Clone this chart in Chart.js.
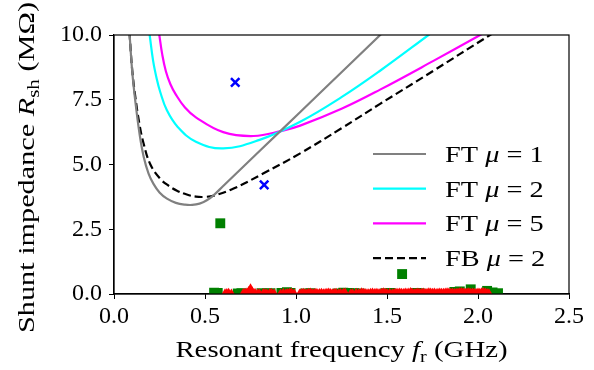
<!DOCTYPE html>
<html>
<head>
<meta charset="utf-8">
<script src="https://cdn.jsdelivr.net/npm/chart.js@4.4.1/dist/chart.umd.min.js"></script>
<style>
	body { margin: 0; background: #ffffff; }
</style>
</head>
<body>
<canvas id="graphique" width="594" height="370"></canvas>
<script>
// courbes FT / FB (frequence en GHz, impedance en MOhm)
const ft1Freq = [0.08, 0.086, 0.1, 0.117, 0.14, 0.163, 0.19, 0.217, 0.25, 0.291, 0.34, 0.39, 0.43, 0.47, 0.51, 0.55, 0.6, 0.7, 0.914, 1.133, 1.47];
const ft1R = [10.7, 10.0, 8.6, 7.45, 6.2, 5.3, 4.65, 4.25, 3.92, 3.68, 3.52, 3.45, 3.44, 3.49, 3.62, 3.83, 4.17, 4.845, 6.29, 7.77, 10.05];

const ft2Freq = [0.19, 0.196, 0.215, 0.235, 0.254, 0.29, 0.35, 0.45, 0.6, 0.8, 1.023, 1.25, 1.462, 1.728, 1.76];
const ft2R = [10.3, 10.0, 9.0, 8.3, 7.8, 7.1, 6.45, 5.88, 5.62, 5.95, 6.65, 7.6, 8.62, 10.0, 10.17];

const ft5Freq = [0.243, 0.249, 0.265, 0.285, 0.31, 0.34, 0.39, 0.45, 0.6, 0.767, 0.923, 1.023, 1.25, 1.462, 1.755, 2.012, 2.04];
const ft5R = [10.3, 10.0, 9.25, 8.6, 8.1, 7.7, 7.2, 6.82, 6.25, 6.1, 6.3, 6.5, 7.15, 7.89, 9.0, 10.0, 10.11];

const fb2Freq = [0.08, 0.086, 0.1, 0.117, 0.14, 0.163, 0.2, 0.254, 0.3, 0.346, 0.4, 0.45, 0.5, 0.55, 0.657, 0.822, 1.023, 1.25, 1.462, 1.755, 2.066, 2.09];
const fb2R = [10.6, 10.0, 8.65, 7.62, 6.55, 5.8, 5.0, 4.45, 4.18, 3.99, 3.84, 3.76, 3.75, 3.8, 4.07, 4.66, 5.43, 6.4, 7.34, 8.62, 10.0, 10.1];

// points mesures
const croixFreq = [0.666, 0.825];
const croixR = [8.17, 4.21];

const carresFreq = [0.584, 1.583, 0.55, 0.57, 0.68, 0.7, 0.81, 0.84, 0.86, 0.92, 0.95, 0.97, 1.05, 1.08, 1.23, 1.26, 1.29, 1.32, 1.35, 1.49, 1.52, 1.66, 1.68, 1.87, 1.9, 1.96, 2.05, 2.08, 2.11];
const carresR = [2.73, 0.77, 0.05, 0.04, 0.02, 0.03, 0.03, 0.02, 0.03, 0.04, 0.07, 0.04, 0.02, 0.03, 0.02, 0.05, 0.04, 0.03, 0.02, 0.03, 0.04, 0.04, 0.03, 0.08, 0.1, 0.18, 0.12, 0.06, 0.03];

const trianglesFreq = [0.61, 0.62, 0.63, 0.645, 0.71, 0.72, 0.73, 0.74, 0.75, 0.76, 0.775, 0.79, 0.8, 0.82, 0.83, 0.84, 0.855, 0.865, 0.88, 0.915, 0.93, 0.945, 0.955, 0.965, 0.975, 0.99, 1.02, 1.03, 1.04, 1.05, 1.06, 1.07, 1.08, 1.09, 1.1, 1.11, 1.12, 1.13, 1.14, 1.15, 1.16, 1.17, 1.18, 1.19, 1.2, 1.21, 1.22, 1.235, 1.245, 1.26, 1.27, 1.3, 1.31, 1.33, 1.345, 1.36, 1.37, 1.38, 1.39, 1.4, 1.41, 1.42, 1.43, 1.44, 1.45, 1.46, 1.47, 1.48, 1.49, 1.5, 1.515, 1.53, 1.54, 1.55, 1.56, 1.57, 1.58, 1.59, 1.6, 1.61, 1.62, 1.63, 1.64, 1.65, 1.66, 1.67, 1.68, 1.69, 1.7, 1.71, 1.72, 1.73, 1.74, 1.75, 1.76, 1.77, 1.78, 1.79, 1.8, 1.81, 1.82, 1.83, 1.84, 1.85, 1.86, 1.87, 1.88, 1.89, 1.9, 1.91, 1.92, 1.93, 1.94, 1.95, 1.96, 1.97, 1.98, 1.99, 2.0, 2.01, 2.02, 2.03, 2.04, 2.05, 2.06];
const trianglesR = [0.03, 0.04, 0.05, 0.02, 0.04, 0.05, 0.06, 0.12, 0.22, 0.1, 0.05, 0.03, 0.02, 0.04, 0.03, 0.02, 0.04, 0.05, 0.03, 0.02, 0.05, 0.03, 0.04, 0.05, 0.06, 0.03, 0.02, 0.04, 0.05, 0.03, 0.03, 0.05, 0.06, 0.03, 0.04, 0.05, 0.03, 0.04, 0.05, 0.03, 0.04, 0.05, 0.06, 0.04, 0.03, 0.04, 0.05, 0.03, 0.04, 0.05, 0.06, 0.02, 0.04, 0.05, 0.04, 0.07, 0.05, 0.04, 0.03, 0.03, 0.05, 0.06, 0.04, 0.05, 0.04, 0.03, 0.05, 0.07, 0.05, 0.04, 0.05, 0.03, 0.04, 0.05, 0.05, 0.06, 0.05, 0.04, 0.06, 0.05, 0.06, 0.08, 0.05, 0.03, 0.05, 0.06, 0.04, 0.05, 0.06, 0.04, 0.05, 0.07, 0.06, 0.05, 0.06, 0.04, 0.05, 0.06, 0.05, 0.05, 0.06, 0.07, 0.06, 0.05, 0.06, 0.04, 0.05, 0.06, 0.07, 0.08, 0.06, 0.05, 0.06, 0.07, 0.05, 0.06, 0.05, 0.04, 0.06, 0.05, 0.07, 0.08, 0.06, 0.04, 0.03];

// legende
const legendeNoms = ["FT", "FT", "FT", "FB"];
const legendeMu = ["1", "2", "5", "2"];

const police = "Liberation Serif";

function points(xs, ys) {
	return xs.map((x, i) => ({ x: x, y: ys[i] }));
}

function courbe(xs, ys, couleur, tirets) {
	return {
		data: points(xs, ys),
		showLine: true,
		borderColor: couleur,
		borderWidth: 2.2,
		borderDash: tirets,
		pointRadius: 0,
		tension: 0.4,
		clip: 0,
	};
}

function marqueurs(xs, ys, style, couleur, rayon) {
	return {
		data: points(xs, ys),
		showLine: false,
		pointStyle: style,
		pointRadius: rayon,
		pointHoverRadius: rayon,
		backgroundColor: couleur,
		borderColor: couleur,
		borderWidth: style === "crossRot" ? 2.5 : 0,
		clip: 0,
	};
}

// texte avec morceaux italiques / indices, etire en largeur (police TeX plus large)
function texteMixte(ctx, morceaux, x, y, taille, centre, etire) {
	const polices = morceaux.map((m) => {
		const t = m.indice ? taille * 0.7 : taille;
		return (m.italique ? "italic " : "") + t + "px '" + police + "'";
	});
	let total = 0;
	morceaux.forEach((m, i) => {
		ctx.font = polices[i];
		total += ctx.measureText(m.t).width;
	});
	ctx.save();
	ctx.translate(x, y);
	ctx.scale(etire, 1);
	let pos = centre ? -total / 2 : 0;
	ctx.textBaseline = "alphabetic";
	ctx.textAlign = "left";
	morceaux.forEach((m, i) => {
		ctx.font = polices[i];
		ctx.fillText(m.t, pos, m.indice ? taille * 0.2 : 0);
		pos += ctx.measureText(m.t).width;
	});
	ctx.restore();
}

const habillage = {
	id: "habillage",
	afterDraw(chart) {
		const ctx = chart.ctx;
		const zone = chart.chartArea;
		ctx.save();
		// cadre
		ctx.strokeStyle = "#000000";
		ctx.lineWidth = 1.2;
		ctx.strokeRect(zone.left, zone.top, zone.right - zone.left, zone.bottom - zone.top);
		ctx.fillStyle = "#000000";
		// titre axe x
		texteMixte(ctx, [
			{ t: "Resonant frequency " },
			{ t: "f", italique: true },
			{ t: "r", indice: true },
			{ t: " (GHz)" },
		], (zone.left + zone.right) / 2, 357, 24, true, 1.2);
		// titre axe y
		ctx.translate(34, (zone.top + zone.bottom) / 2 + 3);
		ctx.rotate(-Math.PI / 2);
		texteMixte(ctx, [
			{ t: "Shunt impedance " },
			{ t: "R", italique: true },
			{ t: "sh", indice: true },
			{ t: " (M\u03a9)" },
		], 0, 0, 24, true, 1.26);
		ctx.restore();
		// legende
		ctx.save();
		const couleurs = ["#808080", "#00ffff", "#ff00ff", "#000000"];
		for (let i = 0; i < legendeNoms.length; i++) {
			const y = 154 + i * 34.7;
			ctx.strokeStyle = couleurs[i];
			ctx.lineWidth = 2.2;
			ctx.setLineDash(i === 3 ? [8, 4] : []);
			ctx.beginPath();
			ctx.moveTo(373, y);
			ctx.lineTo(426, y);
			ctx.stroke();
			ctx.fillStyle = "#000000";
			texteMixte(ctx, [
				{ t: legendeNoms[i] + " " },
				{ t: "\u03bc", italique: true },
				{ t: " = " + legendeMu[i] },
			], 445, y + 8, 24, false, 1.18);
		}
		ctx.restore();
	},
};

const data = {
	datasets: [
		marqueurs(trianglesFreq, trianglesR, "triangle", "#ff0000", 5),
		marqueurs(carresFreq, carresR, "rect", "#008000", 7),
		marqueurs(croixFreq, croixR, "crossRot", "#0000ff", 6),
		courbe(ft1Freq, ft1R, "#808080", []),
		courbe(ft2Freq, ft2R, "#00ffff", []),
		courbe(ft5Freq, ft5R, "#ff00ff", []),
		courbe(fb2Freq, fb2R, "#000000", [8, 4]),
	],
};

const config = {
	type: "scatter",
	data: data,
	options: {
		responsive: false,
		animation: false,
		devicePixelRatio: 1,
		layout: { padding: { left: 0, right: 25, top: 35, bottom: 0 } },
		plugins: { legend: { display: false }, tooltip: { enabled: false } },
		scales: {
			x: {
				min: 0,
				max: 2.5,
				afterFit: (scale) => { scale.height = 76; },
				border: { display: true, color: "#000000", width: 1.2 },
				grid: { drawOnChartArea: false, drawTicks: true, tickLength: 5, color: "#000000" },
				ticks: {
					stepSize: 0.5,
					padding: 3,
					color: "#000000",
					font: { family: police, size: 24 },
					callback: (v) => v.toFixed(1),
				},
			},
			y: {
				min: 0,
				max: 10,
				afterFit: (scale) => { scale.width = 114; },
				border: { display: true, color: "#000000", width: 1.2 },
				grid: { drawOnChartArea: false, drawTicks: true, tickLength: 5, color: "#000000" },
				ticks: {
					stepSize: 2.5,
					padding: 7,
					color: "#000000",
					font: { family: police, size: 24 },
					callback: (v) => v.toFixed(1),
				},
			},
		},
	},
	plugins: [habillage],
};

const graphique = new Chart(document.querySelector("#graphique"), config);
</script>
</body>
</html>
